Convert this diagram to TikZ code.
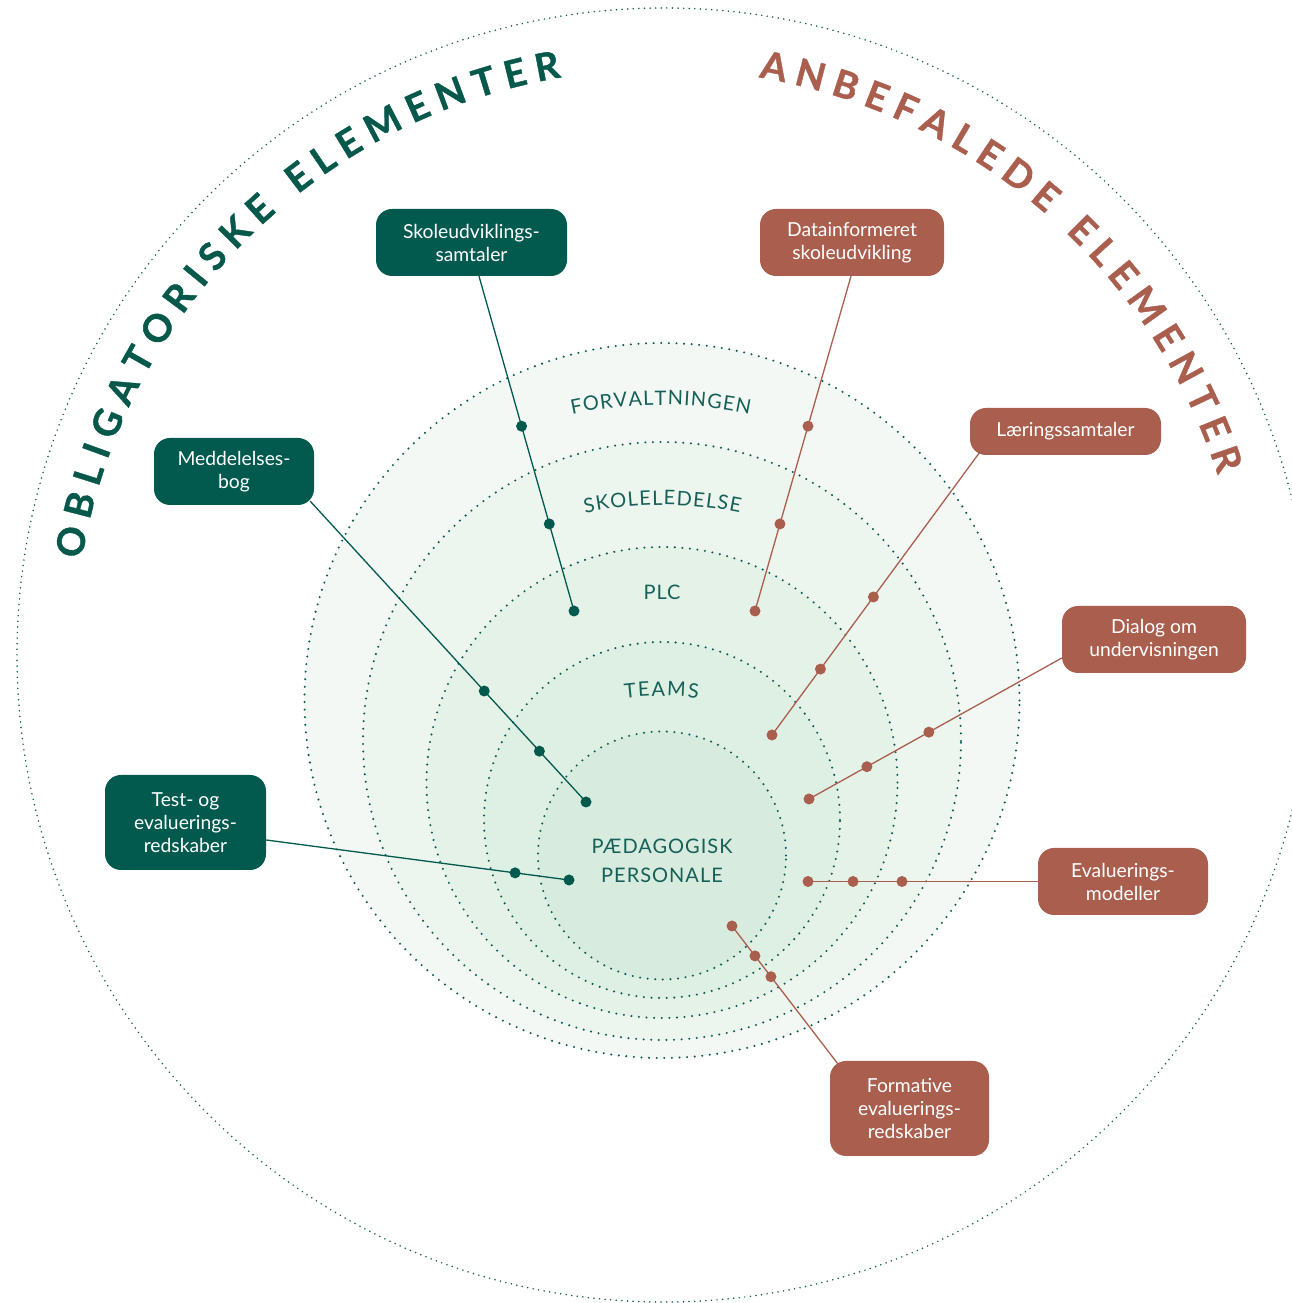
\documentclass[tikz,border=0pt]{standalone}
\usepackage{fontspec}
\setmainfont{Lato}
\newfontfamily\circfont[LetterSpace=5]{Lato}
\newfontfamily\arcfont{Lato}
\newfontfamily\titfont[BoldFeatures={FakeBold=1}]{Lato}
\usetikzlibrary{decorations.text,calc}
\definecolor{boxg}{RGB}{2,90,79}
\definecolor{boxr}{RGB}{170,95,78}
\definecolor{titg}{RGB}{6,88,74}
\definecolor{dotc}{RGB}{16,92,82}
\definecolor{lblc}{RGB}{22,96,88}
\definecolor{cA}{RGB}{243,248,244}
\definecolor{cB}{RGB}{236,245,238}
\definecolor{cC}{RGB}{229,242,232}
\definecolor{cD}{RGB}{222,239,227}
\definecolor{cE}{RGB}{215,236,222}
\newcommand\boxfont{\fontsize{19.3}{23}\selectfont}
\newcommand\lblfont{\circfont\fontsize{20}{20}\selectfont}
\newcommand\arclblfont{\arcfont\fontsize{20}{20}\selectfont}
\newcommand\bigtitle{\titfont\bfseries\fontsize{38}{38}\selectfont}
\begin{document}
\begin{tikzpicture}[x=1pt,y=1pt,
  ring/.style={draw=dotc, line width=2.3pt, line cap=round, dash pattern=on 0pt off 7.6pt},
  outerring/.style={draw=dotc, line width=1.7pt, line cap=round, dash pattern=on 0pt off 5.6pt},
  gbox/.style={fill=boxg, rounded corners=16pt, text=white, align=center, font=\boxfont, inner sep=0pt},
  rbox/.style={fill=boxr, rounded corners=16pt, text=white, align=center, font=\boxfont, inner sep=0pt},
  gline/.style={draw=boxg, line width=1.3pt},
  rline/.style={draw=boxr, line width=1.3pt},
  gdot/.style={circle, fill=boxg, inner sep=0pt, minimum size=11pt},
  rdot/.style={circle, fill=boxr, inner sep=0pt, minimum size=11pt},
  lbl/.style={text=lblc, font=\lblfont, inner sep=0pt, anchor=base}
]
\useasboundingbox (0,0) rectangle (1292,1303);

% outer circle
\draw[outerring] (664,648) circle[radius=647];

% titles
\path[decorate, decoration={text along path, text={|\bigtitle|OBLIGATORISKE ELEMENTER},
   text align={fit to path}, text color=titg}]
   ($(660,648)+(170.6:586)$) arc[start angle=170.6, end angle=99.7, radius=586];
\path[decorate, decoration={text along path, text={|\bigtitle|ANBEFALEDE ELEMENTER},
   text align={fit to path}, text color=boxr}]
   ($(660,648)+(80.3:586)$) arc[start angle=80.3, end angle=17.9, radius=586];

% nested circles
\fill[cA] (662,602.5) circle[radius=357.5];
\draw[ring] (662,602.5) circle[radius=357.5];
\fill[cB] (662,562) circle[radius=299];
\draw[ring] (662,562) circle[radius=299];
\fill[cC] (662,520.5) circle[radius=235.5];
\draw[ring] (662,520.5) circle[radius=235.5];
\fill[cD] (662,483) circle[radius=178];
\draw[ring] (662,483) circle[radius=178];
\fill[cE] (662,447.5) circle[radius=124];
\draw[ring] (662,447.5) circle[radius=124];

% circle labels
\path[decorate, decoration={text along path, text={|\arclblfont|FORVALTNINGEN},
   text align={fit to path}, text color=lblc}]
   ($(661.5,468)+(102.0:430)$) arc[start angle=102.0, end angle=78.2, radius=430];
\path[decorate, decoration={text along path, text={|\arclblfont|SKOLELEDELSE},
   text align={fit to path}, text color=lblc}]
   ($(662.5,423)+(101.9:375)$) arc[start angle=101.9, end angle=78.1, radius=375];
\path[decorate, decoration={text along path, text={|\arclblfont|TEAMS},
   text align={fit to path}, text color=lblc}]
   ($(661.5,307)+(97.0:300)$) arc[start angle=97.0, end angle=83.0, radius=300];
\node[lbl] (plc) at (662,703) {PLC};
\node[lbl] (ped) at (662,449) {PÆDAGOGISK};
\node[lbl] (pers) at (662,420) {PERSONALE};

% boxes
\node[gbox, minimum width=191pt, minimum height=67pt] (B1) at (471.5,1060.5) {Skoleudviklings-\\samtaler};
\node[gbox, minimum width=160pt, minimum height=67pt] (B2) at (234,831.5) {Meddelelses-\\bog};
\node[gbox, minimum width=161pt, minimum height=95pt] (B3) at (185.5,480.5) {Test- og\\evaluerings-\\redskaber};
\node[rbox, minimum width=184pt, minimum height=67pt] (B4) at (852,1060.5) {Datainformeret\\skoleudvikling};
\node[rbox, minimum width=191pt, minimum height=47pt] (B5) at (1065.5,871.5) {Læringssamtaler};
\node[rbox, minimum width=184pt, minimum height=67pt] (B6) at (1154,663.5) {Dialog om\\undervisningen};
\node[rbox, minimum width=170pt, minimum height=67pt] (B7) at (1123,421.5) {Evaluerings-\\modeller};
\node[rbox, minimum width=159pt, minimum height=95pt] (B8) at (909.5,194.5) {Formative\\evaluerings-\\redskaber};

% connector start points on boxes
\coordinate (s1) at ([xshift=7.5pt]B1.south);
\coordinate (s2) at ([xshift=-4pt,yshift=4pt]B2.south east);
\coordinate (s3) at ([yshift=-17.5pt]B3.east);
\coordinate (s4) at ([xshift=-1pt]B4.south);
\coordinate (s5) at ([xshift=10pt,yshift=3pt]B5.south west);
\coordinate (s6) at ([yshift=-18.5pt]B6.west);
\coordinate (s7) at (B7.west);
\coordinate (s8) at ([xshift=8pt,yshift=-3pt]B8.north west);

% connector inner ends
\coordinate (e1) at (574,692);
\coordinate (e2) at (586,501);
\coordinate (e3) at (569,423);
\coordinate (e4) at (755,692);
\coordinate (e5) at (772,568);
\coordinate (e6) at (809,504);
\coordinate (e7) at (808,421.5);
\coordinate (e8) at (732,377);

% lines
\draw[gline] (s1) -- (e1);
\draw[gline] (s2) -- (e2);
\draw[gline] (s3) -- (e3);
\draw[rline] (s4) -- (e4);
\draw[rline] (s5) -- (e5);
\draw[rline] (s6) -- (e6);
\draw[rline] (s7) -- (e7);
\draw[rline] (s8) -- (e8);

% dots
\node[gdot] (d1a) at ($(s1)!0.448!(e1)$) {};
\node[gdot] (d1b) at ($(s1)!0.740!(e1)$) {};
\node[gdot] (d1c) at (e1) {};
\node[gdot] (d2a) at ($(s2)!0.631!(e2)$) {};
\node[gdot] (d2b) at ($(s2)!0.831!(e2)$) {};
\node[gdot] (d2c) at (e2) {};
\node[gdot] (d3a) at ($(s3)!0.822!(e3)$) {};
\node[gdot] (d3b) at (e3) {};
\node[rdot] (d4a) at ($(s4)!0.448!(e4)$) {};
\node[rdot] (d4b) at ($(s4)!0.740!(e4)$) {};
\node[rdot] (d4c) at (e4) {};
\node[rdot] (d5a) at ($(s5)!0.512!(e5)$) {};
\node[rdot] (d5b) at ($(s5)!0.767!(e5)$) {};
\node[rdot] (d5c) at (e5) {};
\node[rdot] (d6a) at ($(s6)!0.526!(e6)$) {};
\node[rdot] (d6b) at ($(s6)!0.771!(e6)$) {};
\node[rdot] (d6c) at (e6) {};
\node[rdot] (d7a) at ($(s7)!0.591!(e7)$) {};
\node[rdot] (d7b) at ($(s7)!0.804!(e7)$) {};
\node[rdot] (d7c) at (e7) {};
\node[rdot] (d8a) at ($(s8)!0.632!(e8)$) {};
\node[rdot] (d8b) at ($(s8)!0.783!(e8)$) {};
\node[rdot] (d8c) at (e8) {};
\end{tikzpicture}
\end{document}
